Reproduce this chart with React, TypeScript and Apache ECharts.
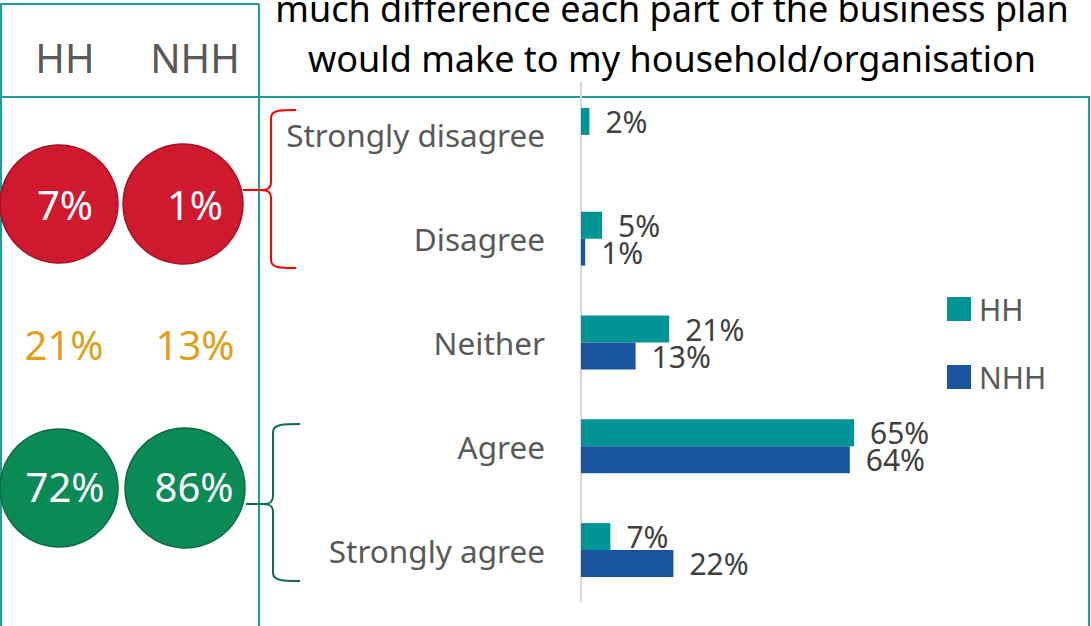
import React, { useEffect, useRef } from "react";
import * as echarts from "echarts";

const categories = ["Strongly disagree", "Disagree", "Neither", "Agree", "Strongly agree"];
const hhValues = [2, 5, 21, 65, 7];
const nhhValues = [0, 1, 13, 64, 22];
const seriesNames = ["HH", "NHH"];
const titleLines = [
  "much difference each part of the business plan",
  "would make to my household/organisation",
];
const summaryHeaders = ["HH", "NHH"];
const disagreeTotals = ["7%", "1%"];
const neitherTotals = ["21%", "13%"];
const agreeTotals = ["72%", "86%"];

const FONT = "'Noto Sans', sans-serif";
const TEAL_LINE = "#1f9b9b";

let registered = false;
function registerBraces() {
  if (registered) return;
  registered = true;
  const red =
    "M243,190 L260,190 M296,110 C280,110 271,110 271,118 L271,182 C271,188 268,190 260,190 C268,190 271,192 271,198 L271,260 C271,268 280,268 296,268";
  const green =
    "M246,504 L263,504 M300,424 C284,424 273,424 273,432 L273,496 C273,502 270,504 263,504 C270,504 273,506 273,512 L273,573 C273,581 284,581 300,581";
  echarts.graphic.registerShape("braceRed", echarts.graphic.extendPath(red, {}));
  echarts.graphic.registerShape("braceGreen", echarts.graphic.extendPath(green, {}));
}

export default function App() {
  const ref = useRef<HTMLDivElement>(null);
  useEffect(() => {
    if (!ref.current) return;
    registerBraces();
    const chart = echarts.init(ref.current, null, { renderer: "svg" });
    const circleText = (txt: string, x: number, y: number, color: string) => ({
      type: "text",
      x,
      y,
      style: {
        text: txt,
        fill: color,
        font: `40px ${FONT}`,
        align: "center",
        verticalAlign: "middle",
      },
      z: 20,
    });
    const labelFmt = (p: any) => (p.value ? p.value + "%" : "");
    chart.setOption({
      animation: false,
      backgroundColor: "#ffffff",
      grid: { left: 581, right: 90, top: 83, bottom: 24, containLabel: false },
      legend: {
        orient: "vertical",
        left: 942,
        top: 289,
        itemWidth: 24,
        itemHeight: 24,
        itemGap: 38,
        icon: "rect",
        data: seriesNames,
        textStyle: { fontSize: 30, color: "#595959", fontFamily: FONT, padding: [0, 0, 0, 3] },
      },
      xAxis: {
        type: "value",
        min: 0,
        max: 100,
        show: false,
        splitLine: { show: false },
      },
      yAxis: {
        type: "category",
        inverse: true,
        data: categories,
        axisTick: { show: false },
        axisLine: { show: true, lineStyle: { color: "#d9d9d9", width: 2 } },
        axisLabel: { margin: 36, fontSize: 31.5, color: "#595959", fontFamily: FONT },
      },
      series: [
        {
          name: seriesNames[0],
          type: "bar",
          data: hhValues,
          barWidth: 27,
          barGap: "0%",
          itemStyle: { color: "#009494" },
          label: {
            show: true,
            position: "right",
            distance: 16,
            formatter: labelFmt,
            fontSize: 30,
            color: "#404040",
            fontFamily: FONT,
          },
        },
        {
          name: seriesNames[1],
          type: "bar",
          data: nhhValues,
          barWidth: 27,
          barGap: "0%",
          itemStyle: { color: "#1a56a0" },
          label: {
            show: true,
            position: "right",
            distance: 16,
            formatter: labelFmt,
            fontSize: 30,
            color: "#404040",
            fontFamily: FONT,
          },
        },
      ],
      graphic: [
        {
          type: "text",
          x: 672,
          y: 8,
          style: { text: titleLines[0], fill: "#000", font: `36px ${FONT}`, align: "center", verticalAlign: "middle" },
        },
        {
          type: "text",
          x: 672,
          y: 58,
          style: { text: titleLines[1], fill: "#000", font: `36px ${FONT}`, align: "center", verticalAlign: "middle" },
        },
        { type: "line", shape: { x1: 0, y1: 4, x2: 259, y2: 4 }, style: { stroke: TEAL_LINE, lineWidth: 2 } },
        { type: "line", shape: { x1: 1, y1: 4, x2: 1, y2: 626 }, style: { stroke: TEAL_LINE, lineWidth: 2 } },
        { type: "line", shape: { x1: 259, y1: 4, x2: 259, y2: 626 }, style: { stroke: TEAL_LINE, lineWidth: 2 } },
        { type: "line", shape: { x1: 0, y1: 97, x2: 1090, y2: 97 }, style: { stroke: TEAL_LINE, lineWidth: 2 } },
        { type: "line", shape: { x1: 1089, y1: 97, x2: 1089, y2: 626 }, style: { stroke: TEAL_LINE, lineWidth: 2 } },
        {
          type: "text",
          x: 65,
          y: 57,
          style: { text: summaryHeaders[0], fill: "#595959", font: `40px ${FONT}`, align: "center", verticalAlign: "middle" },
        },
        {
          type: "text",
          x: 195,
          y: 57,
          style: { text: summaryHeaders[1], fill: "#595959", font: `40px ${FONT}`, align: "center", verticalAlign: "middle" },
        },
        { type: "circle", shape: { cx: 59, cy: 204, r: 59 }, style: { fill: "#d0182f", stroke: "#a0142a", lineWidth: 1.5 }, z: 10 },
        { type: "circle", shape: { cx: 183, cy: 204, r: 60 }, style: { fill: "#d0182f", stroke: "#a0142a", lineWidth: 1.5 }, z: 10 },
        { type: "circle", shape: { cx: 59, cy: 488, r: 59 }, style: { fill: "#0a8a55", stroke: "#0c6a44", lineWidth: 1.5 }, z: 10 },
        { type: "circle", shape: { cx: 185, cy: 488, r: 60 }, style: { fill: "#0a8a55", stroke: "#0c6a44", lineWidth: 1.5 }, z: 10 },
        circleText(disagreeTotals[0], 65, 204, "#ffffff"),
        circleText(disagreeTotals[1], 195, 204, "#ffffff"),
        circleText(neitherTotals[0], 64, 344, "#e19f1c"),
        circleText(neitherTotals[1], 195, 344, "#e19f1c"),
        circleText(agreeTotals[0], 65, 486, "#ffffff"),
        circleText(agreeTotals[1], 194, 486, "#ffffff"),
        { type: "braceRed", x: 0, y: 0, style: { stroke: "#ff0000", fill: null, lineWidth: 2 }, z: 5 },
        { type: "braceGreen", x: 0, y: 0, style: { stroke: "#0d6e45", fill: null, lineWidth: 2 }, z: 5 },
      ],
    });
    return () => chart.dispose();
  }, []);
  return (
    <div
      ref={ref}
      style={{ position: "absolute", left: 0, top: 0, width: 1091, height: 626, background: "#fff" }}
    />
  );
}
